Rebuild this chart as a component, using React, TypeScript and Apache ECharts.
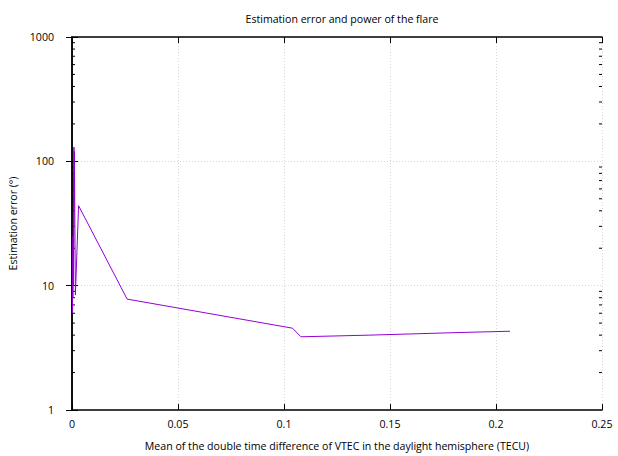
import React, { useEffect, useRef } from "react";
import * as echarts from "echarts";

const xValues = [0.0002, 0.0005, 0.0004, 0.0008, 0.0006, 0.0009, 0.0007, 0.0011, 0.0016, 0.0031, 0.026, 0.104, 0.108, 0.14, 0.183, 0.2066];
const yValues = [6.0, 25, 8, 80, 10, 130, 15, 120, 8.4, 44, 7.8, 4.55, 3.88, 4.0, 4.2, 4.3];
const yMinorTicks = [2, 3, 4, 5, 6, 7, 8, 9, 20, 30, 40, 50, 60, 70, 80, 90, 200, 300, 400, 500, 600, 700, 800, 900];

const FONT = "Open Sans";
const FS = 10.6;

export default function App() {
  const ref = useRef<HTMLDivElement>(null);
  useEffect(() => {
    document.body.style.margin = "0";
    const chart = echarts.init(ref.current!, null, { renderer: "svg" });
    const data = xValues.map((x, i) => [x, yValues[i]]);
    const axisLine = { show: true, lineStyle: { color: "#000", width: 1.5 } };
    const split = { show: true, lineStyle: { color: "#d6d6d6", type: [1, 2], width: 1 } };
    chart.setOption({
      animation: false,
      backgroundColor: "#fff",
      title: {
        text: "Estimation error and power of the flare",
        left: 337,
        textAlign: "center",
        top: 8,
        textStyle: { fontFamily: FONT, fontSize: FS, fontWeight: "normal", color: "#000" },
      },
      grid: { left: 72, right: 16, top: 37, bottom: 46, containLabel: false, outerBoundsMode: "none" },
      xAxis: [
        {
          type: "value",
          min: 0,
          max: 0.25,
          interval: 0.05,
          position: "bottom",
          name: "Mean of the double time difference of VTEC in the daylight hemisphere (TECU)",
          nameLocation: "middle",
          nameGap: 30,
          nameTextStyle: { fontFamily: FONT, fontSize: FS, color: "#000" },
          axisLine,
          axisTick: { show: true, inside: true, length: 6, lineStyle: { color: "#000" } },
          axisLabel: { fontFamily: FONT, fontSize: FS, color: "#000", margin: 8, formatter: (v: number) => String(v) },
          splitLine: split,
        },
        {
          type: "value",
          min: 0,
          max: 0.25,
          interval: 0.05,
          position: "top",
          axisLine,
          axisTick: { show: true, inside: true, length: 6, lineStyle: { color: "#000" } },
          axisLabel: { show: false },
          splitLine: { show: false },
        },
      ],
      yAxis: [
        {
          type: "log",
          logBase: 10,
          min: 1,
          max: 1000,
          position: "left",
          name: "Estimation error (°)",
          nameLocation: "middle",
          nameGap: 49,
          nameTextStyle: { fontFamily: FONT, fontSize: FS, color: "#000" },
          axisLine,
          axisTick: { show: true, inside: true, length: 6, lineStyle: { color: "#000" } },
          axisLabel: { fontFamily: FONT, fontSize: FS, color: "#000", margin: 18, formatter: (v: number) => String(Math.round(v)) },
          splitLine: split,
        },
        {
          type: "log",
          logBase: 10,
          min: 1,
          max: 1000,
          position: "right",
          axisLine,
          axisTick: { show: true, inside: true, length: 6, lineStyle: { color: "#000" } },
          axisLabel: { show: false },
          splitLine: { show: false },
        },
      ],
      series: [
        {
          type: "line",
          data,
          showSymbol: false,
          lineStyle: { color: "#9400d3", width: 1 },
          itemStyle: { color: "#9400d3" },
          xAxisIndex: 0,
          yAxisIndex: 0,
        },
      ],
    });
    const left = chart.convertToPixel({ xAxisIndex: 0 }, 0) as number;
    const right = chart.convertToPixel({ xAxisIndex: 0 }, 0.25) as number;
    const graphics: any[] = [];
    yMinorTicks.forEach((v) => {
      const y = chart.convertToPixel({ yAxisIndex: 0 }, v) as number;
      graphics.push({ type: "line", shape: { x1: left, y1: y, x2: left + 3, y2: y }, style: { stroke: "#000", lineWidth: 1 }, silent: true });
      graphics.push({ type: "line", shape: { x1: right - 3, y1: y, x2: right, y2: y }, style: { stroke: "#000", lineWidth: 1 }, silent: true });
    });
    chart.setOption({ graphic: graphics });
    return () => chart.dispose();
  }, []);
  return <div ref={ref} style={{ width: 618, height: 456, position: "absolute", left: 0, top: 0 }} />;
}
